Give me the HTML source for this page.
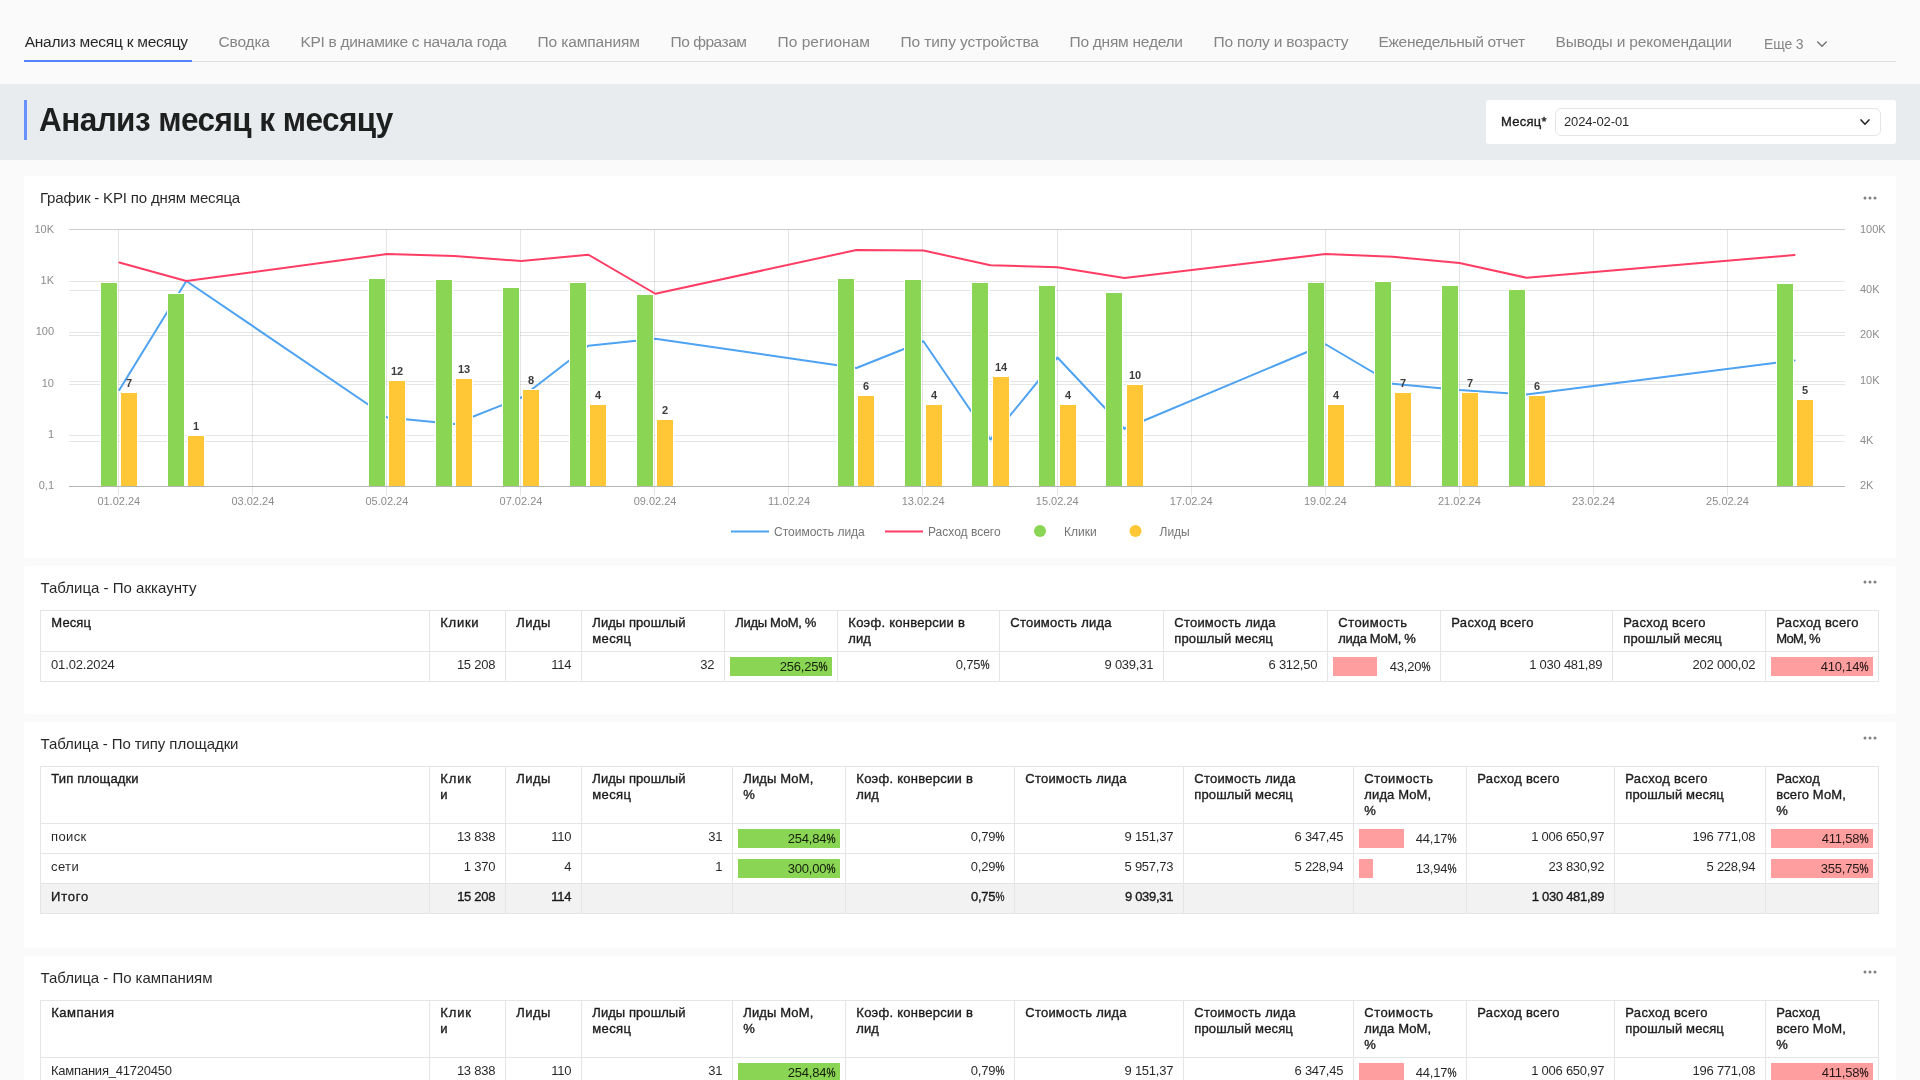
<!DOCTYPE html>
<html lang="ru"><head><meta charset="utf-8"><title>Анализ месяц к месяцу</title>
<style>html,body{margin:0;padding:0}body{width:1920px;height:1080px;overflow:hidden;position:relative;background:#fafafa;font-family:"Liberation Sans", sans-serif;}span{display:block}</style></head>
<body>
<div style="position:absolute;left:0;top:0;width:1920px;height:1080px;will-change:transform">
<div style="position:absolute;left:0px;top:84px;width:1920px;height:76px;background:#e9ecef;"></div>
<div style="position:absolute;left:24px;top:61px;width:1872px;height:1px;background:#e0e0e0;"></div>
<div style="position:absolute;left:24px;top:59.5px;width:168px;height:2px;background:#5282ff;"></div>
<span style="position:absolute;white-space:pre;font-size:15.5px;line-height:15.5px;top:34.28px;color:rgba(0,0,0,.85);letter-spacing:-0.249px;left:24.70px;">Анализ месяц к месяцу</span>
<span style="position:absolute;white-space:pre;font-size:15.5px;line-height:15.5px;top:34.28px;color:#858585;letter-spacing:-0.166px;left:218.50px;">Сводка</span>
<span style="position:absolute;white-space:pre;font-size:15.5px;line-height:15.5px;top:34.28px;color:#858585;letter-spacing:-0.305px;left:300.50px;">KPI в динамике с начала года</span>
<span style="position:absolute;white-space:pre;font-size:15.5px;line-height:15.5px;top:34.28px;color:#858585;letter-spacing:-0.114px;left:537.50px;">По кампаниям</span>
<span style="position:absolute;white-space:pre;font-size:15.5px;line-height:15.5px;top:34.28px;color:#858585;letter-spacing:-0.473px;left:670.50px;">По фразам</span>
<span style="position:absolute;white-space:pre;font-size:15.5px;line-height:15.5px;top:34.28px;color:#858585;letter-spacing:0.042px;left:777.50px;">По регионам</span>
<span style="position:absolute;white-space:pre;font-size:15.5px;line-height:15.5px;top:34.28px;color:#858585;letter-spacing:-0.097px;left:900.50px;">По типу устройства</span>
<span style="position:absolute;white-space:pre;font-size:15.5px;line-height:15.5px;top:34.28px;color:#858585;letter-spacing:-0.249px;left:1069.50px;">По дням недели</span>
<span style="position:absolute;white-space:pre;font-size:15.5px;line-height:15.5px;top:34.28px;color:#858585;letter-spacing:-0.202px;left:1213.50px;">По полу и возрасту</span>
<span style="position:absolute;white-space:pre;font-size:15.5px;line-height:15.5px;top:34.28px;color:#858585;letter-spacing:-0.310px;left:1378.50px;">Еженедельный отчет</span>
<span style="position:absolute;white-space:pre;font-size:15.5px;line-height:15.5px;top:34.28px;color:#858585;letter-spacing:-0.165px;left:1555.50px;">Выводы и рекомендации</span>
<span style="position:absolute;white-space:pre;font-size:15.5px;line-height:15.5px;top:35.88px;color:#858585;letter-spacing:-0.117px;transform:scaleX(0.9);transform-origin:0 50%;left:1764.30px;">Еще 3</span>
<svg style="position:absolute;left:1815px;top:38px" width="14" height="12" viewBox="0 0 14 12"><path d="M2.7 3.9 L7 8.3 L11.3 3.9" fill="none" stroke="#737373" stroke-width="1.4" stroke-linecap="round" stroke-linejoin="round"/></svg>
<div style="position:absolute;left:24px;top:100px;width:3px;height:40px;background:#6691ff;"></div>
<span style="position:absolute;white-space:pre;font-size:33.5px;line-height:33.5px;top:102.74px;color:rgba(0,0,0,.87);font-weight:700;letter-spacing:-0.579px;transform:scaleX(0.94);transform-origin:0 50%;left:39.30px;">Анализ месяц к месяцу</span>
<div style="position:absolute;left:1486px;top:100px;width:410px;height:44px;background:#fff;border-radius:3px;"></div>
<span style="position:absolute;white-space:pre;font-size:13px;line-height:13px;top:115.00px;color:rgba(0,0,0,.85);-webkit-text-stroke:0.37px rgba(0,0,0,.85);letter-spacing:0.270px;left:1501.00px;">Месяц*</span>
<div style="position:absolute;left:1555px;top:108px;width:326px;height:28px;box-sizing:border-box;border:1px solid #e5e5e5;border-radius:6px;background:#fff"></div>
<span style="position:absolute;white-space:pre;font-size:13px;line-height:13px;top:115.00px;color:rgba(0,0,0,.85);letter-spacing:-0.144px;left:1564.00px;">2024-02-01</span>
<svg style="position:absolute;left:1858px;top:116px" width="14" height="12" viewBox="0 0 14 12"><path d="M3.05 3.95 L7 8.25 L10.95 3.95" fill="none" stroke="#262626" stroke-width="1.6" stroke-linecap="round" stroke-linejoin="round"/></svg>
<div style="position:absolute;left:24px;top:176px;width:1872px;height:382px;background:#fff;border-radius:3px;"></div>
<div style="position:absolute;left:24px;top:566px;width:1872px;height:148px;background:#fff;border-radius:3px;"></div>
<div style="position:absolute;left:24px;top:722px;width:1872px;height:226px;background:#fff;border-radius:3px;"></div>
<div style="position:absolute;left:24px;top:956px;width:1872px;height:200px;background:#fff;border-radius:3px;"></div>
<svg style="position:absolute;left:1860px;top:194px" width="20" height="8" viewBox="0 0 20 8"><circle cx="5" cy="4" r="1.5" fill="#808080"/><circle cx="10" cy="4" r="1.5" fill="#808080"/><circle cx="15" cy="4" r="1.5" fill="#808080"/></svg>
<svg style="position:absolute;left:1860px;top:578px" width="20" height="8" viewBox="0 0 20 8"><circle cx="5" cy="4" r="1.5" fill="#808080"/><circle cx="10" cy="4" r="1.5" fill="#808080"/><circle cx="15" cy="4" r="1.5" fill="#808080"/></svg>
<svg style="position:absolute;left:1860px;top:734px" width="20" height="8" viewBox="0 0 20 8"><circle cx="5" cy="4" r="1.5" fill="#808080"/><circle cx="10" cy="4" r="1.5" fill="#808080"/><circle cx="15" cy="4" r="1.5" fill="#808080"/></svg>
<svg style="position:absolute;left:1860px;top:968px" width="20" height="8" viewBox="0 0 20 8"><circle cx="5" cy="4" r="1.5" fill="#808080"/><circle cx="10" cy="4" r="1.5" fill="#808080"/><circle cx="15" cy="4" r="1.5" fill="#808080"/></svg>
<span style="position:absolute;white-space:pre;font-size:15px;line-height:15px;top:190.40px;color:rgba(0,0,0,.85);letter-spacing:-0.162px;left:40.00px;">График - KPI по дням месяца</span>
<span style="position:absolute;white-space:pre;font-size:15px;line-height:15px;top:580.40px;color:rgba(0,0,0,.85);letter-spacing:0.013px;left:40.50px;">Таблица - По аккаунту</span>
<span style="position:absolute;white-space:pre;font-size:15px;line-height:15px;top:736.40px;color:rgba(0,0,0,.85);letter-spacing:-0.090px;left:40.50px;">Таблица - По типу площадки</span>
<span style="position:absolute;white-space:pre;font-size:15px;line-height:15px;top:970.40px;color:rgba(0,0,0,.85);letter-spacing:-0.026px;left:40.50px;">Таблица - По кампаниям</span>
<svg style="position:absolute;left:0;top:0" width="1920" height="1080" viewBox="0 0 1920 1080" font-family='"Liberation Sans", sans-serif'><path d="M69 281.5 H1845" stroke="#000" stroke-opacity=".1" stroke-width="1"/><path d="M69 290.5 H1845" stroke="#000" stroke-opacity=".1" stroke-width="1"/><path d="M69 332.5 H1845" stroke="#000" stroke-opacity=".1" stroke-width="1"/><path d="M69 335.5 H1845" stroke="#000" stroke-opacity=".1" stroke-width="1"/><path d="M69 381.5 H1845" stroke="#000" stroke-opacity=".1" stroke-width="1"/><path d="M69 384.5 H1845" stroke="#000" stroke-opacity=".1" stroke-width="1"/><path d="M69 435.5 H1845" stroke="#000" stroke-opacity=".1" stroke-width="1"/><path d="M69 441.5 H1845" stroke="#000" stroke-opacity=".1" stroke-width="1"/><path d="M69 229.5 H1845" stroke="#000" stroke-opacity=".1" stroke-width="1"/><path d="M69 229.5 H1845" stroke="#000" stroke-opacity=".1" stroke-width="1"/><path d="M118.5 230 V495.5" stroke="#000" stroke-opacity=".1" stroke-width="1"/><path d="M252.5 230 V495.5" stroke="#000" stroke-opacity=".1" stroke-width="1"/><path d="M386.5 230 V495.5" stroke="#000" stroke-opacity=".1" stroke-width="1"/><path d="M520.5 230 V495.5" stroke="#000" stroke-opacity=".1" stroke-width="1"/><path d="M654.5 230 V495.5" stroke="#000" stroke-opacity=".1" stroke-width="1"/><path d="M788.5 230 V495.5" stroke="#000" stroke-opacity=".1" stroke-width="1"/><path d="M922.5 230 V495.5" stroke="#000" stroke-opacity=".1" stroke-width="1"/><path d="M1057.5 230 V495.5" stroke="#000" stroke-opacity=".1" stroke-width="1"/><path d="M1191.5 230 V495.5" stroke="#000" stroke-opacity=".1" stroke-width="1"/><path d="M1325.5 230 V495.5" stroke="#000" stroke-opacity=".1" stroke-width="1"/><path d="M1459.5 230 V495.5" stroke="#000" stroke-opacity=".1" stroke-width="1"/><path d="M1593.5 230 V495.5" stroke="#000" stroke-opacity=".1" stroke-width="1"/><path d="M1727.5 230 V495.5" stroke="#000" stroke-opacity=".1" stroke-width="1"/><path d="M69 486.5 H1845" stroke="#b5b5b5" stroke-width="1"/><path d="M119.30 390.00 L186.31 281.00 L387.34 417.50 L454.35 424.00 L521.36 397.50 L588.37 345.75 L655.38 338.75 L856.41 368.00 L923.42 341.25 L990.43 439.50 L1057.44 357.50 L1124.45 428.75 L1325.48 344.25 L1392.49 383.75 L1459.50 390.00 L1526.51 394.50 L1794.55 360.50" fill="none" stroke="#4DA2F1" stroke-width="2" stroke-linejoin="round" stroke-linecap="round"/><rect x="100.5" y="282.5" width="17" height="204.5" fill="#8AD554" stroke="#fff" stroke-width="1"/><rect x="120.5" y="392.5" width="17" height="94.5" fill="#FFC636" stroke="#fff" stroke-width="1"/><rect x="167.5" y="293.5" width="17" height="193.5" fill="#8AD554" stroke="#fff" stroke-width="1"/><rect x="187.5" y="435.5" width="17" height="51.5" fill="#FFC636" stroke="#fff" stroke-width="1"/><rect x="368.5" y="278.5" width="17" height="208.5" fill="#8AD554" stroke="#fff" stroke-width="1"/><rect x="388.5" y="380.5" width="17" height="106.5" fill="#FFC636" stroke="#fff" stroke-width="1"/><rect x="435.5" y="279.5" width="17" height="207.5" fill="#8AD554" stroke="#fff" stroke-width="1"/><rect x="455.5" y="378.5" width="17" height="108.5" fill="#FFC636" stroke="#fff" stroke-width="1"/><rect x="502.5" y="287.5" width="17" height="199.5" fill="#8AD554" stroke="#fff" stroke-width="1"/><rect x="522.5" y="389.5" width="17" height="97.5" fill="#FFC636" stroke="#fff" stroke-width="1"/><rect x="569.5" y="282.5" width="17" height="204.5" fill="#8AD554" stroke="#fff" stroke-width="1"/><rect x="589.5" y="404.5" width="17" height="82.5" fill="#FFC636" stroke="#fff" stroke-width="1"/><rect x="636.5" y="294.5" width="17" height="192.5" fill="#8AD554" stroke="#fff" stroke-width="1"/><rect x="656.5" y="419.5" width="17" height="67.5" fill="#FFC636" stroke="#fff" stroke-width="1"/><rect x="837.5" y="278.5" width="17" height="208.5" fill="#8AD554" stroke="#fff" stroke-width="1"/><rect x="857.5" y="395.5" width="17" height="91.5" fill="#FFC636" stroke="#fff" stroke-width="1"/><rect x="904.5" y="279.5" width="17" height="207.5" fill="#8AD554" stroke="#fff" stroke-width="1"/><rect x="925.5" y="404.5" width="17" height="82.5" fill="#FFC636" stroke="#fff" stroke-width="1"/><rect x="971.5" y="282.5" width="17" height="204.5" fill="#8AD554" stroke="#fff" stroke-width="1"/><rect x="992.5" y="376.5" width="17" height="110.5" fill="#FFC636" stroke="#fff" stroke-width="1"/><rect x="1038.5" y="285.5" width="17" height="201.5" fill="#8AD554" stroke="#fff" stroke-width="1"/><rect x="1059.5" y="404.5" width="17" height="82.5" fill="#FFC636" stroke="#fff" stroke-width="1"/><rect x="1105.5" y="292.5" width="17" height="194.5" fill="#8AD554" stroke="#fff" stroke-width="1"/><rect x="1126.5" y="384.5" width="17" height="102.5" fill="#FFC636" stroke="#fff" stroke-width="1"/><rect x="1307.5" y="282.5" width="17" height="204.5" fill="#8AD554" stroke="#fff" stroke-width="1"/><rect x="1327.5" y="404.5" width="17" height="82.5" fill="#FFC636" stroke="#fff" stroke-width="1"/><rect x="1374.5" y="281.5" width="17" height="205.5" fill="#8AD554" stroke="#fff" stroke-width="1"/><rect x="1394.5" y="392.5" width="17" height="94.5" fill="#FFC636" stroke="#fff" stroke-width="1"/><rect x="1441.5" y="285.5" width="17" height="201.5" fill="#8AD554" stroke="#fff" stroke-width="1"/><rect x="1461.5" y="392.5" width="17" height="94.5" fill="#FFC636" stroke="#fff" stroke-width="1"/><rect x="1508.5" y="289.5" width="17" height="197.5" fill="#8AD554" stroke="#fff" stroke-width="1"/><rect x="1528.5" y="395.5" width="17" height="91.5" fill="#FFC636" stroke="#fff" stroke-width="1"/><rect x="1776.5" y="283.5" width="17" height="203.5" fill="#8AD554" stroke="#fff" stroke-width="1"/><rect x="1796.5" y="399.5" width="17" height="87.5" fill="#FFC636" stroke="#fff" stroke-width="1"/><path d="M119.30 262.50 L186.31 281.00 L387.34 254.00 L454.35 256.00 L521.36 261.00 L588.37 254.75 L655.38 293.75 L856.41 250.00 L923.42 250.50 L990.43 265.25 L1057.44 267.25 L1124.45 278.00 L1325.48 254.00 L1392.49 256.75 L1459.50 263.00 L1526.51 277.75 L1794.55 255.00" fill="none" stroke="#FF3D64" stroke-width="2" stroke-linejoin="round" stroke-linecap="round"/><path d="M69 486.5 H1845" stroke="#b5b5b5" stroke-width="1"/><text x="54" y="232.6" text-anchor="end" font-size="11" fill="#8c8c8c">10K</text><text x="54" y="283.9" text-anchor="end" font-size="11" fill="#8c8c8c">1K</text><text x="54" y="335.2" text-anchor="end" font-size="11" fill="#8c8c8c">100</text><text x="54" y="386.5" text-anchor="end" font-size="11" fill="#8c8c8c">10</text><text x="54" y="437.8" text-anchor="end" font-size="11" fill="#8c8c8c">1</text><text x="54" y="489.2" text-anchor="end" font-size="11" fill="#8c8c8c">0,1</text><text x="1860" y="232.6" text-anchor="start" font-size="11" fill="#8c8c8c">100K</text><text x="1860" y="292.7" text-anchor="start" font-size="11" fill="#8c8c8c">40K</text><text x="1860" y="338.1" text-anchor="start" font-size="11" fill="#8c8c8c">20K</text><text x="1860" y="383.6" text-anchor="start" font-size="11" fill="#8c8c8c">10K</text><text x="1860" y="443.6" text-anchor="start" font-size="11" fill="#8c8c8c">4K</text><text x="1860" y="489.2" text-anchor="start" font-size="11" fill="#8c8c8c">2K</text><text x="118.8" y="505" text-anchor="middle" font-size="11" fill="#8c8c8c">01.02.24</text><text x="252.86" y="505" text-anchor="middle" font-size="11" fill="#8c8c8c">03.02.24</text><text x="386.92" y="505" text-anchor="middle" font-size="11" fill="#8c8c8c">05.02.24</text><text x="520.98" y="505" text-anchor="middle" font-size="11" fill="#8c8c8c">07.02.24</text><text x="655.04" y="505" text-anchor="middle" font-size="11" fill="#8c8c8c">09.02.24</text><text x="789.1" y="505" text-anchor="middle" font-size="11" fill="#8c8c8c">11.02.24</text><text x="923.16" y="505" text-anchor="middle" font-size="11" fill="#8c8c8c">13.02.24</text><text x="1057.22" y="505" text-anchor="middle" font-size="11" fill="#8c8c8c">15.02.24</text><text x="1191.28" y="505" text-anchor="middle" font-size="11" fill="#8c8c8c">17.02.24</text><text x="1325.34" y="505" text-anchor="middle" font-size="11" fill="#8c8c8c">19.02.24</text><text x="1459.4" y="505" text-anchor="middle" font-size="11" fill="#8c8c8c">21.02.24</text><text x="1593.46" y="505" text-anchor="middle" font-size="11" fill="#8c8c8c">23.02.24</text><text x="1727.52" y="505" text-anchor="middle" font-size="11" fill="#8c8c8c">25.02.24</text><text x="129" y="387" text-anchor="middle" font-size="11" fill="#3d3d3d" font-weight="700">7</text><text x="196" y="430" text-anchor="middle" font-size="11" fill="#3d3d3d" font-weight="700">1</text><text x="397" y="375" text-anchor="middle" font-size="11" fill="#3d3d3d" font-weight="700">12</text><text x="464" y="373" text-anchor="middle" font-size="11" fill="#3d3d3d" font-weight="700">13</text><text x="531" y="384" text-anchor="middle" font-size="11" fill="#3d3d3d" font-weight="700">8</text><text x="598" y="399" text-anchor="middle" font-size="11" fill="#3d3d3d" font-weight="700">4</text><text x="665" y="414" text-anchor="middle" font-size="11" fill="#3d3d3d" font-weight="700">2</text><text x="866" y="390" text-anchor="middle" font-size="11" fill="#3d3d3d" font-weight="700">6</text><text x="934" y="399" text-anchor="middle" font-size="11" fill="#3d3d3d" font-weight="700">4</text><text x="1001" y="371" text-anchor="middle" font-size="11" fill="#3d3d3d" font-weight="700">14</text><text x="1068" y="399" text-anchor="middle" font-size="11" fill="#3d3d3d" font-weight="700">4</text><text x="1135" y="379" text-anchor="middle" font-size="11" fill="#3d3d3d" font-weight="700">10</text><text x="1336" y="399" text-anchor="middle" font-size="11" fill="#3d3d3d" font-weight="700">4</text><text x="1403" y="387" text-anchor="middle" font-size="11" fill="#3d3d3d" font-weight="700">7</text><text x="1470" y="387" text-anchor="middle" font-size="11" fill="#3d3d3d" font-weight="700">7</text><text x="1537" y="390" text-anchor="middle" font-size="11" fill="#3d3d3d" font-weight="700">6</text><text x="1805" y="394" text-anchor="middle" font-size="11" fill="#3d3d3d" font-weight="700">5</text><path d="M731 531.5 H769" stroke="#4DA2F1" stroke-width="2"/><path d="M885 531.5 H923" stroke="#FF3D64" stroke-width="2"/><circle cx="1040" cy="531" r="6" fill="#8AD554"/><circle cx="1135.5" cy="531" r="6" fill="#FFC636"/><text x="774" y="536" text-anchor="start" font-size="12" fill="#757575">Стоимость лида</text><text x="928" y="536" text-anchor="start" font-size="12" fill="#757575">Расход всего</text><text x="1064" y="536" text-anchor="start" font-size="12" fill="#757575">Клики</text><text x="1159.5" y="536" text-anchor="start" font-size="12" fill="#757575">Лиды</text></svg>
<div style="position:absolute;left:40px;top:610px;width:1839px;height:1px;background:#e5e5e5;"></div>
<div style="position:absolute;left:40px;top:651px;width:1839px;height:1px;background:#e5e5e5;"></div>
<div style="position:absolute;left:40px;top:681px;width:1839px;height:1px;background:#e5e5e5;"></div>
<div style="position:absolute;left:40px;top:610px;width:1px;height:72px;background:#e5e5e5;"></div>
<div style="position:absolute;left:429px;top:610px;width:1px;height:72px;background:#e5e5e5;"></div>
<div style="position:absolute;left:505px;top:610px;width:1px;height:72px;background:#e5e5e5;"></div>
<div style="position:absolute;left:581px;top:610px;width:1px;height:72px;background:#e5e5e5;"></div>
<div style="position:absolute;left:724px;top:610px;width:1px;height:72px;background:#e5e5e5;"></div>
<div style="position:absolute;left:837px;top:610px;width:1px;height:72px;background:#e5e5e5;"></div>
<div style="position:absolute;left:999px;top:610px;width:1px;height:72px;background:#e5e5e5;"></div>
<div style="position:absolute;left:1163px;top:610px;width:1px;height:72px;background:#e5e5e5;"></div>
<div style="position:absolute;left:1327px;top:610px;width:1px;height:72px;background:#e5e5e5;"></div>
<div style="position:absolute;left:1440px;top:610px;width:1px;height:72px;background:#e5e5e5;"></div>
<div style="position:absolute;left:1612px;top:610px;width:1px;height:72px;background:#e5e5e5;"></div>
<div style="position:absolute;left:1765px;top:610px;width:1px;height:72px;background:#e5e5e5;"></div>
<div style="position:absolute;left:1878px;top:610px;width:1px;height:72px;background:#e5e5e5;"></div>
<span style="position:absolute;white-space:pre;font-size:13px;line-height:13px;top:616.10px;color:rgba(0,0,0,.85);-webkit-text-stroke:0.37px rgba(0,0,0,.85);letter-spacing:0.124px;left:51.30px;">Месяц</span>
<span style="position:absolute;white-space:pre;font-size:13px;line-height:13px;top:616.10px;color:rgba(0,0,0,.85);-webkit-text-stroke:0.37px rgba(0,0,0,.85);letter-spacing:0.731px;left:440.30px;">Клики</span>
<span style="position:absolute;white-space:pre;font-size:13px;line-height:13px;top:616.10px;color:rgba(0,0,0,.85);-webkit-text-stroke:0.37px rgba(0,0,0,.85);letter-spacing:0.422px;left:516.30px;">Лиды</span>
<span style="position:absolute;white-space:pre;font-size:13px;line-height:13px;top:616.10px;color:rgba(0,0,0,.85);-webkit-text-stroke:0.37px rgba(0,0,0,.85);letter-spacing:0.066px;left:592.30px;">Лиды прошлый</span>
<span style="position:absolute;white-space:pre;font-size:13px;line-height:13px;top:632.10px;color:rgba(0,0,0,.85);-webkit-text-stroke:0.37px rgba(0,0,0,.85);letter-spacing:0.361px;left:592.30px;">месяц</span>
<span style="position:absolute;white-space:pre;font-size:13px;line-height:13px;top:616.10px;color:rgba(0,0,0,.85);-webkit-text-stroke:0.37px rgba(0,0,0,.85);letter-spacing:-0.306px;left:735.30px;">Лиды МоМ, %</span>
<span style="position:absolute;white-space:pre;font-size:13px;line-height:13px;top:616.10px;color:rgba(0,0,0,.85);-webkit-text-stroke:0.37px rgba(0,0,0,.85);letter-spacing:0.258px;left:848.30px;">Коэф. конверсии в</span>
<span style="position:absolute;white-space:pre;font-size:13px;line-height:13px;top:632.10px;color:rgba(0,0,0,.85);-webkit-text-stroke:0.37px rgba(0,0,0,.85);letter-spacing:0.081px;left:848.30px;">лид</span>
<span style="position:absolute;white-space:pre;font-size:13px;line-height:13px;top:616.10px;color:rgba(0,0,0,.85);-webkit-text-stroke:0.37px rgba(0,0,0,.85);letter-spacing:0.219px;left:1010.30px;">Стоимость лида</span>
<span style="position:absolute;white-space:pre;font-size:13px;line-height:13px;top:616.10px;color:rgba(0,0,0,.85);-webkit-text-stroke:0.37px rgba(0,0,0,.85);letter-spacing:0.219px;left:1174.30px;">Стоимость лида</span>
<span style="position:absolute;white-space:pre;font-size:13px;line-height:13px;top:632.10px;color:rgba(0,0,0,.85);-webkit-text-stroke:0.37px rgba(0,0,0,.85);letter-spacing:0.134px;left:1174.30px;">прошлый месяц</span>
<span style="position:absolute;white-space:pre;font-size:13px;line-height:13px;top:616.10px;color:rgba(0,0,0,.85);-webkit-text-stroke:0.37px rgba(0,0,0,.85);letter-spacing:0.451px;left:1338.30px;">Стоимость</span>
<span style="position:absolute;white-space:pre;font-size:13px;line-height:13px;top:632.10px;color:rgba(0,0,0,.85);-webkit-text-stroke:0.37px rgba(0,0,0,.85);letter-spacing:-0.359px;left:1338.30px;">лида МоМ, %</span>
<span style="position:absolute;white-space:pre;font-size:13px;line-height:13px;top:616.10px;color:rgba(0,0,0,.85);-webkit-text-stroke:0.37px rgba(0,0,0,.85);letter-spacing:0.322px;left:1451.30px;">Расход всего</span>
<span style="position:absolute;white-space:pre;font-size:13px;line-height:13px;top:616.10px;color:rgba(0,0,0,.85);-webkit-text-stroke:0.37px rgba(0,0,0,.85);letter-spacing:0.322px;left:1623.30px;">Расход всего</span>
<span style="position:absolute;white-space:pre;font-size:13px;line-height:13px;top:632.10px;color:rgba(0,0,0,.85);-webkit-text-stroke:0.37px rgba(0,0,0,.85);letter-spacing:0.134px;left:1623.30px;">прошлый месяц</span>
<span style="position:absolute;white-space:pre;font-size:13px;line-height:13px;top:616.10px;color:rgba(0,0,0,.85);-webkit-text-stroke:0.37px rgba(0,0,0,.85);letter-spacing:0.322px;left:1776.30px;">Расход всего</span>
<span style="position:absolute;white-space:pre;font-size:13px;line-height:13px;top:632.10px;color:rgba(0,0,0,.85);-webkit-text-stroke:0.37px rgba(0,0,0,.85);letter-spacing:-0.706px;left:1776.30px;">МоМ, %</span>
<span style="position:absolute;white-space:pre;font-size:13px;line-height:13px;top:657.50px;color:rgba(0,0,0,.85);letter-spacing:-0.148px;left:51.00px;">01.02.2024</span>
<span style="position:absolute;white-space:pre;font-size:13px;line-height:13px;top:657.50px;color:rgba(0,0,0,.85);letter-spacing:-0.250px;right:1424.85px;">15 208</span>
<span style="position:absolute;white-space:pre;font-size:13px;line-height:13px;top:657.50px;color:rgba(0,0,0,.85);letter-spacing:-0.250px;right:1348.85px;">114</span>
<span style="position:absolute;white-space:pre;font-size:13px;line-height:13px;top:657.50px;color:rgba(0,0,0,.85);letter-spacing:-0.250px;right:1205.85px;">32</span>
<div style="position:absolute;left:730px;top:657px;width:102px;height:19px;background:#8AD554;"></div>
<span style="position:absolute;white-space:pre;font-size:13px;line-height:13px;top:659.80px;color:rgba(0,0,0,.85);letter-spacing:-0.250px;right:1092.85px;">256,25<i style="display:inline-block;font-style:normal;transform:scaleX(.78);transform-origin:100% 50%;-webkit-text-stroke:.3px;margin-left:-2.54px;letter-spacing:0">%</i></span>
<span style="position:absolute;white-space:pre;font-size:13px;line-height:13px;top:657.50px;color:rgba(0,0,0,.85);letter-spacing:-0.250px;right:930.85px;">0,75<i style="display:inline-block;font-style:normal;transform:scaleX(.78);transform-origin:100% 50%;-webkit-text-stroke:.3px;margin-left:-2.54px;letter-spacing:0">%</i></span>
<span style="position:absolute;white-space:pre;font-size:13px;line-height:13px;top:657.50px;color:rgba(0,0,0,.85);letter-spacing:-0.250px;right:766.85px;">9 039,31</span>
<span style="position:absolute;white-space:pre;font-size:13px;line-height:13px;top:657.50px;color:rgba(0,0,0,.85);letter-spacing:-0.250px;right:602.85px;">6 312,50</span>
<div style="position:absolute;left:1333px;top:657px;width:44px;height:19px;background:#FF9E9E;"></div>
<span style="position:absolute;white-space:pre;font-size:13px;line-height:13px;top:659.80px;color:rgba(0,0,0,.85);letter-spacing:-0.250px;right:489.85px;">43,20<i style="display:inline-block;font-style:normal;transform:scaleX(.78);transform-origin:100% 50%;-webkit-text-stroke:.3px;margin-left:-2.54px;letter-spacing:0">%</i></span>
<span style="position:absolute;white-space:pre;font-size:13px;line-height:13px;top:657.50px;color:rgba(0,0,0,.85);letter-spacing:-0.250px;right:317.85px;">1 030 481,89</span>
<span style="position:absolute;white-space:pre;font-size:13px;line-height:13px;top:657.50px;color:rgba(0,0,0,.85);letter-spacing:-0.250px;right:164.85px;">202 000,02</span>
<div style="position:absolute;left:1771px;top:657px;width:102px;height:19px;background:#FF9E9E;"></div>
<span style="position:absolute;white-space:pre;font-size:13px;line-height:13px;top:659.80px;color:rgba(0,0,0,.85);letter-spacing:-0.250px;right:51.85px;">410,14<i style="display:inline-block;font-style:normal;transform:scaleX(.78);transform-origin:100% 50%;-webkit-text-stroke:.3px;margin-left:-2.54px;letter-spacing:0">%</i></span>
<div style="position:absolute;left:40px;top:883px;width:1838px;height:30px;background:#f2f2f2;"></div>
<div style="position:absolute;left:40px;top:766px;width:1839px;height:1px;background:#e5e5e5;"></div>
<div style="position:absolute;left:40px;top:823px;width:1839px;height:1px;background:#e5e5e5;"></div>
<div style="position:absolute;left:40px;top:853px;width:1839px;height:1px;background:#e5e5e5;"></div>
<div style="position:absolute;left:40px;top:883px;width:1839px;height:1px;background:#e5e5e5;"></div>
<div style="position:absolute;left:40px;top:913px;width:1839px;height:1px;background:#e5e5e5;"></div>
<div style="position:absolute;left:40px;top:766px;width:1px;height:148px;background:#e5e5e5;"></div>
<div style="position:absolute;left:429px;top:766px;width:1px;height:148px;background:#e5e5e5;"></div>
<div style="position:absolute;left:505px;top:766px;width:1px;height:148px;background:#e5e5e5;"></div>
<div style="position:absolute;left:581px;top:766px;width:1px;height:148px;background:#e5e5e5;"></div>
<div style="position:absolute;left:732px;top:766px;width:1px;height:148px;background:#e5e5e5;"></div>
<div style="position:absolute;left:845px;top:766px;width:1px;height:148px;background:#e5e5e5;"></div>
<div style="position:absolute;left:1014px;top:766px;width:1px;height:148px;background:#e5e5e5;"></div>
<div style="position:absolute;left:1183px;top:766px;width:1px;height:148px;background:#e5e5e5;"></div>
<div style="position:absolute;left:1353px;top:766px;width:1px;height:148px;background:#e5e5e5;"></div>
<div style="position:absolute;left:1466px;top:766px;width:1px;height:148px;background:#e5e5e5;"></div>
<div style="position:absolute;left:1614px;top:766px;width:1px;height:148px;background:#e5e5e5;"></div>
<div style="position:absolute;left:1765px;top:766px;width:1px;height:148px;background:#e5e5e5;"></div>
<div style="position:absolute;left:1878px;top:766px;width:1px;height:148px;background:#e5e5e5;"></div>
<span style="position:absolute;white-space:pre;font-size:13px;line-height:13px;top:772.10px;color:rgba(0,0,0,.85);-webkit-text-stroke:0.37px rgba(0,0,0,.85);letter-spacing:0.141px;left:51.30px;">Тип площадки</span>
<span style="position:absolute;white-space:pre;font-size:13px;line-height:13px;top:772.10px;color:rgba(0,0,0,.85);-webkit-text-stroke:0.37px rgba(0,0,0,.85);letter-spacing:0.864px;left:440.30px;">Клик</span>
<span style="position:absolute;white-space:pre;font-size:13px;line-height:13px;top:788.10px;color:rgba(0,0,0,.85);-webkit-text-stroke:0.37px rgba(0,0,0,.85);letter-spacing:0.120px;left:440.30px;">и</span>
<span style="position:absolute;white-space:pre;font-size:13px;line-height:13px;top:772.10px;color:rgba(0,0,0,.85);-webkit-text-stroke:0.37px rgba(0,0,0,.85);letter-spacing:0.422px;left:516.30px;">Лиды</span>
<span style="position:absolute;white-space:pre;font-size:13px;line-height:13px;top:772.10px;color:rgba(0,0,0,.85);-webkit-text-stroke:0.37px rgba(0,0,0,.85);letter-spacing:0.066px;left:592.30px;">Лиды прошлый</span>
<span style="position:absolute;white-space:pre;font-size:13px;line-height:13px;top:788.10px;color:rgba(0,0,0,.85);-webkit-text-stroke:0.37px rgba(0,0,0,.85);letter-spacing:0.361px;left:592.30px;">месяц</span>
<span style="position:absolute;white-space:pre;font-size:13px;line-height:13px;top:772.10px;color:rgba(0,0,0,.85);-webkit-text-stroke:0.37px rgba(0,0,0,.85);letter-spacing:0.120px;left:743.30px;">Лиды МоМ,</span>
<span style="position:absolute;white-space:pre;font-size:13px;line-height:13px;top:788.10px;color:rgba(0,0,0,.85);-webkit-text-stroke:0.37px rgba(0,0,0,.85);letter-spacing:0.120px;left:743.30px;">%</span>
<span style="position:absolute;white-space:pre;font-size:13px;line-height:13px;top:772.10px;color:rgba(0,0,0,.85);-webkit-text-stroke:0.37px rgba(0,0,0,.85);letter-spacing:0.258px;left:856.30px;">Коэф. конверсии в</span>
<span style="position:absolute;white-space:pre;font-size:13px;line-height:13px;top:788.10px;color:rgba(0,0,0,.85);-webkit-text-stroke:0.37px rgba(0,0,0,.85);letter-spacing:0.081px;left:856.30px;">лид</span>
<span style="position:absolute;white-space:pre;font-size:13px;line-height:13px;top:772.10px;color:rgba(0,0,0,.85);-webkit-text-stroke:0.37px rgba(0,0,0,.85);letter-spacing:0.219px;left:1025.30px;">Стоимость лида</span>
<span style="position:absolute;white-space:pre;font-size:13px;line-height:13px;top:772.10px;color:rgba(0,0,0,.85);-webkit-text-stroke:0.37px rgba(0,0,0,.85);letter-spacing:0.219px;left:1194.30px;">Стоимость лида</span>
<span style="position:absolute;white-space:pre;font-size:13px;line-height:13px;top:788.10px;color:rgba(0,0,0,.85);-webkit-text-stroke:0.37px rgba(0,0,0,.85);letter-spacing:0.134px;left:1194.30px;">прошлый месяц</span>
<span style="position:absolute;white-space:pre;font-size:13px;line-height:13px;top:772.10px;color:rgba(0,0,0,.85);-webkit-text-stroke:0.37px rgba(0,0,0,.85);letter-spacing:0.451px;left:1364.30px;">Стоимость</span>
<span style="position:absolute;white-space:pre;font-size:13px;line-height:13px;top:788.10px;color:rgba(0,0,0,.85);-webkit-text-stroke:0.37px rgba(0,0,0,.85);letter-spacing:0.120px;left:1364.30px;">лида МоМ,</span>
<span style="position:absolute;white-space:pre;font-size:13px;line-height:13px;top:804.10px;color:rgba(0,0,0,.85);-webkit-text-stroke:0.37px rgba(0,0,0,.85);letter-spacing:0.120px;left:1364.30px;">%</span>
<span style="position:absolute;white-space:pre;font-size:13px;line-height:13px;top:772.10px;color:rgba(0,0,0,.85);-webkit-text-stroke:0.37px rgba(0,0,0,.85);letter-spacing:0.322px;left:1477.30px;">Расход всего</span>
<span style="position:absolute;white-space:pre;font-size:13px;line-height:13px;top:772.10px;color:rgba(0,0,0,.85);-webkit-text-stroke:0.37px rgba(0,0,0,.85);letter-spacing:0.322px;left:1625.30px;">Расход всего</span>
<span style="position:absolute;white-space:pre;font-size:13px;line-height:13px;top:788.10px;color:rgba(0,0,0,.85);-webkit-text-stroke:0.37px rgba(0,0,0,.85);letter-spacing:0.134px;left:1625.30px;">прошлый месяц</span>
<span style="position:absolute;white-space:pre;font-size:13px;line-height:13px;top:772.10px;color:rgba(0,0,0,.85);-webkit-text-stroke:0.37px rgba(0,0,0,.85);letter-spacing:0.120px;left:1776.30px;">Расход</span>
<span style="position:absolute;white-space:pre;font-size:13px;line-height:13px;top:788.10px;color:rgba(0,0,0,.85);-webkit-text-stroke:0.37px rgba(0,0,0,.85);letter-spacing:0.120px;left:1776.30px;">всего МоМ,</span>
<span style="position:absolute;white-space:pre;font-size:13px;line-height:13px;top:804.10px;color:rgba(0,0,0,.85);-webkit-text-stroke:0.37px rgba(0,0,0,.85);letter-spacing:0.120px;left:1776.30px;">%</span>
<span style="position:absolute;white-space:pre;font-size:13px;line-height:13px;top:829.50px;color:rgba(0,0,0,.85);letter-spacing:0.395px;left:51.00px;">поиск</span>
<span style="position:absolute;white-space:pre;font-size:13px;line-height:13px;top:829.50px;color:rgba(0,0,0,.85);letter-spacing:-0.250px;right:1424.85px;">13 838</span>
<span style="position:absolute;white-space:pre;font-size:13px;line-height:13px;top:829.50px;color:rgba(0,0,0,.85);letter-spacing:-0.250px;right:1348.85px;">110</span>
<span style="position:absolute;white-space:pre;font-size:13px;line-height:13px;top:829.50px;color:rgba(0,0,0,.85);letter-spacing:-0.250px;right:1197.85px;">31</span>
<div style="position:absolute;left:738px;top:829px;width:102px;height:19px;background:#8AD554;"></div>
<span style="position:absolute;white-space:pre;font-size:13px;line-height:13px;top:831.80px;color:rgba(0,0,0,.85);letter-spacing:-0.250px;right:1084.85px;">254,84<i style="display:inline-block;font-style:normal;transform:scaleX(.78);transform-origin:100% 50%;-webkit-text-stroke:.3px;margin-left:-2.54px;letter-spacing:0">%</i></span>
<span style="position:absolute;white-space:pre;font-size:13px;line-height:13px;top:829.50px;color:rgba(0,0,0,.85);letter-spacing:-0.250px;right:915.85px;">0,79<i style="display:inline-block;font-style:normal;transform:scaleX(.78);transform-origin:100% 50%;-webkit-text-stroke:.3px;margin-left:-2.54px;letter-spacing:0">%</i></span>
<span style="position:absolute;white-space:pre;font-size:13px;line-height:13px;top:829.50px;color:rgba(0,0,0,.85);letter-spacing:-0.250px;right:746.85px;">9 151,37</span>
<span style="position:absolute;white-space:pre;font-size:13px;line-height:13px;top:829.50px;color:rgba(0,0,0,.85);letter-spacing:-0.250px;right:576.85px;">6 347,45</span>
<div style="position:absolute;left:1359px;top:829px;width:45px;height:19px;background:#FF9E9E;"></div>
<span style="position:absolute;white-space:pre;font-size:13px;line-height:13px;top:831.80px;color:rgba(0,0,0,.85);letter-spacing:-0.250px;right:463.85px;">44,17<i style="display:inline-block;font-style:normal;transform:scaleX(.78);transform-origin:100% 50%;-webkit-text-stroke:.3px;margin-left:-2.54px;letter-spacing:0">%</i></span>
<span style="position:absolute;white-space:pre;font-size:13px;line-height:13px;top:829.50px;color:rgba(0,0,0,.85);letter-spacing:-0.250px;right:315.85px;">1 006 650,97</span>
<span style="position:absolute;white-space:pre;font-size:13px;line-height:13px;top:829.50px;color:rgba(0,0,0,.85);letter-spacing:-0.250px;right:164.85px;">196 771,08</span>
<div style="position:absolute;left:1771px;top:829px;width:102px;height:19px;background:#FF9E9E;"></div>
<span style="position:absolute;white-space:pre;font-size:13px;line-height:13px;top:831.80px;color:rgba(0,0,0,.85);letter-spacing:-0.250px;right:51.85px;">411,58<i style="display:inline-block;font-style:normal;transform:scaleX(.78);transform-origin:100% 50%;-webkit-text-stroke:.3px;margin-left:-2.54px;letter-spacing:0">%</i></span>
<span style="position:absolute;white-space:pre;font-size:13px;line-height:13px;top:859.50px;color:rgba(0,0,0,.85);letter-spacing:0.395px;left:51.00px;">сети</span>
<span style="position:absolute;white-space:pre;font-size:13px;line-height:13px;top:859.50px;color:rgba(0,0,0,.85);letter-spacing:-0.250px;right:1424.85px;">1 370</span>
<span style="position:absolute;white-space:pre;font-size:13px;line-height:13px;top:859.50px;color:rgba(0,0,0,.85);letter-spacing:-0.250px;right:1348.85px;">4</span>
<span style="position:absolute;white-space:pre;font-size:13px;line-height:13px;top:859.50px;color:rgba(0,0,0,.85);letter-spacing:-0.250px;right:1197.85px;">1</span>
<div style="position:absolute;left:738px;top:859px;width:102px;height:19px;background:#8AD554;"></div>
<span style="position:absolute;white-space:pre;font-size:13px;line-height:13px;top:861.80px;color:rgba(0,0,0,.85);letter-spacing:-0.250px;right:1084.85px;">300,00<i style="display:inline-block;font-style:normal;transform:scaleX(.78);transform-origin:100% 50%;-webkit-text-stroke:.3px;margin-left:-2.54px;letter-spacing:0">%</i></span>
<span style="position:absolute;white-space:pre;font-size:13px;line-height:13px;top:859.50px;color:rgba(0,0,0,.85);letter-spacing:-0.250px;right:915.85px;">0,29<i style="display:inline-block;font-style:normal;transform:scaleX(.78);transform-origin:100% 50%;-webkit-text-stroke:.3px;margin-left:-2.54px;letter-spacing:0">%</i></span>
<span style="position:absolute;white-space:pre;font-size:13px;line-height:13px;top:859.50px;color:rgba(0,0,0,.85);letter-spacing:-0.250px;right:746.85px;">5 957,73</span>
<span style="position:absolute;white-space:pre;font-size:13px;line-height:13px;top:859.50px;color:rgba(0,0,0,.85);letter-spacing:-0.250px;right:576.85px;">5 228,94</span>
<div style="position:absolute;left:1359px;top:859px;width:14px;height:19px;background:#FF9E9E;"></div>
<span style="position:absolute;white-space:pre;font-size:13px;line-height:13px;top:861.80px;color:rgba(0,0,0,.85);letter-spacing:-0.250px;right:463.85px;">13,94<i style="display:inline-block;font-style:normal;transform:scaleX(.78);transform-origin:100% 50%;-webkit-text-stroke:.3px;margin-left:-2.54px;letter-spacing:0">%</i></span>
<span style="position:absolute;white-space:pre;font-size:13px;line-height:13px;top:859.50px;color:rgba(0,0,0,.85);letter-spacing:-0.250px;right:315.85px;">23 830,92</span>
<span style="position:absolute;white-space:pre;font-size:13px;line-height:13px;top:859.50px;color:rgba(0,0,0,.85);letter-spacing:-0.250px;right:164.85px;">5 228,94</span>
<div style="position:absolute;left:1771px;top:859px;width:102px;height:19px;background:#FF9E9E;"></div>
<span style="position:absolute;white-space:pre;font-size:13px;line-height:13px;top:861.80px;color:rgba(0,0,0,.85);letter-spacing:-0.250px;right:51.85px;">355,75<i style="display:inline-block;font-style:normal;transform:scaleX(.78);transform-origin:100% 50%;-webkit-text-stroke:.3px;margin-left:-2.54px;letter-spacing:0">%</i></span>
<span style="position:absolute;white-space:pre;font-size:13px;line-height:13px;top:889.50px;color:rgba(0,0,0,.85);-webkit-text-stroke:0.37px rgba(0,0,0,.85);letter-spacing:0.805px;left:51.00px;">Итого</span>
<span style="position:absolute;white-space:pre;font-size:13px;line-height:13px;top:889.50px;color:rgba(0,0,0,.85);-webkit-text-stroke:0.37px rgba(0,0,0,.85);letter-spacing:-0.300px;right:1424.90px;">15 208</span>
<span style="position:absolute;white-space:pre;font-size:13px;line-height:13px;top:889.50px;color:rgba(0,0,0,.85);-webkit-text-stroke:0.37px rgba(0,0,0,.85);letter-spacing:-0.300px;right:1348.90px;">114</span>
<span style="position:absolute;white-space:pre;font-size:13px;line-height:13px;top:889.50px;color:rgba(0,0,0,.85);-webkit-text-stroke:0.37px rgba(0,0,0,.85);letter-spacing:-0.300px;right:915.90px;">0,75<i style="display:inline-block;font-style:normal;transform:scaleX(.78);transform-origin:100% 50%;-webkit-text-stroke:.3px;margin-left:-2.54px;letter-spacing:0">%</i></span>
<span style="position:absolute;white-space:pre;font-size:13px;line-height:13px;top:889.50px;color:rgba(0,0,0,.85);-webkit-text-stroke:0.37px rgba(0,0,0,.85);letter-spacing:-0.300px;right:746.90px;">9 039,31</span>
<span style="position:absolute;white-space:pre;font-size:13px;line-height:13px;top:889.50px;color:rgba(0,0,0,.85);-webkit-text-stroke:0.37px rgba(0,0,0,.85);letter-spacing:-0.300px;right:315.90px;">1 030 481,89</span>
<div style="position:absolute;left:40px;top:1000px;width:1839px;height:1px;background:#e5e5e5;"></div>
<div style="position:absolute;left:40px;top:1057px;width:1839px;height:1px;background:#e5e5e5;"></div>
<div style="position:absolute;left:40px;top:1087px;width:1839px;height:1px;background:#e5e5e5;"></div>
<div style="position:absolute;left:40px;top:1000px;width:1px;height:88px;background:#e5e5e5;"></div>
<div style="position:absolute;left:429px;top:1000px;width:1px;height:88px;background:#e5e5e5;"></div>
<div style="position:absolute;left:505px;top:1000px;width:1px;height:88px;background:#e5e5e5;"></div>
<div style="position:absolute;left:581px;top:1000px;width:1px;height:88px;background:#e5e5e5;"></div>
<div style="position:absolute;left:732px;top:1000px;width:1px;height:88px;background:#e5e5e5;"></div>
<div style="position:absolute;left:845px;top:1000px;width:1px;height:88px;background:#e5e5e5;"></div>
<div style="position:absolute;left:1014px;top:1000px;width:1px;height:88px;background:#e5e5e5;"></div>
<div style="position:absolute;left:1183px;top:1000px;width:1px;height:88px;background:#e5e5e5;"></div>
<div style="position:absolute;left:1353px;top:1000px;width:1px;height:88px;background:#e5e5e5;"></div>
<div style="position:absolute;left:1466px;top:1000px;width:1px;height:88px;background:#e5e5e5;"></div>
<div style="position:absolute;left:1614px;top:1000px;width:1px;height:88px;background:#e5e5e5;"></div>
<div style="position:absolute;left:1765px;top:1000px;width:1px;height:88px;background:#e5e5e5;"></div>
<div style="position:absolute;left:1878px;top:1000px;width:1px;height:88px;background:#e5e5e5;"></div>
<span style="position:absolute;white-space:pre;font-size:13px;line-height:13px;top:1006.10px;color:rgba(0,0,0,.85);-webkit-text-stroke:0.37px rgba(0,0,0,.85);letter-spacing:0.457px;left:51.30px;">Кампания</span>
<span style="position:absolute;white-space:pre;font-size:13px;line-height:13px;top:1006.10px;color:rgba(0,0,0,.85);-webkit-text-stroke:0.37px rgba(0,0,0,.85);letter-spacing:0.864px;left:440.30px;">Клик</span>
<span style="position:absolute;white-space:pre;font-size:13px;line-height:13px;top:1022.10px;color:rgba(0,0,0,.85);-webkit-text-stroke:0.37px rgba(0,0,0,.85);letter-spacing:0.120px;left:440.30px;">и</span>
<span style="position:absolute;white-space:pre;font-size:13px;line-height:13px;top:1006.10px;color:rgba(0,0,0,.85);-webkit-text-stroke:0.37px rgba(0,0,0,.85);letter-spacing:0.422px;left:516.30px;">Лиды</span>
<span style="position:absolute;white-space:pre;font-size:13px;line-height:13px;top:1006.10px;color:rgba(0,0,0,.85);-webkit-text-stroke:0.37px rgba(0,0,0,.85);letter-spacing:0.066px;left:592.30px;">Лиды прошлый</span>
<span style="position:absolute;white-space:pre;font-size:13px;line-height:13px;top:1022.10px;color:rgba(0,0,0,.85);-webkit-text-stroke:0.37px rgba(0,0,0,.85);letter-spacing:0.361px;left:592.30px;">месяц</span>
<span style="position:absolute;white-space:pre;font-size:13px;line-height:13px;top:1006.10px;color:rgba(0,0,0,.85);-webkit-text-stroke:0.37px rgba(0,0,0,.85);letter-spacing:0.120px;left:743.30px;">Лиды МоМ,</span>
<span style="position:absolute;white-space:pre;font-size:13px;line-height:13px;top:1022.10px;color:rgba(0,0,0,.85);-webkit-text-stroke:0.37px rgba(0,0,0,.85);letter-spacing:0.120px;left:743.30px;">%</span>
<span style="position:absolute;white-space:pre;font-size:13px;line-height:13px;top:1006.10px;color:rgba(0,0,0,.85);-webkit-text-stroke:0.37px rgba(0,0,0,.85);letter-spacing:0.258px;left:856.30px;">Коэф. конверсии в</span>
<span style="position:absolute;white-space:pre;font-size:13px;line-height:13px;top:1022.10px;color:rgba(0,0,0,.85);-webkit-text-stroke:0.37px rgba(0,0,0,.85);letter-spacing:0.081px;left:856.30px;">лид</span>
<span style="position:absolute;white-space:pre;font-size:13px;line-height:13px;top:1006.10px;color:rgba(0,0,0,.85);-webkit-text-stroke:0.37px rgba(0,0,0,.85);letter-spacing:0.219px;left:1025.30px;">Стоимость лида</span>
<span style="position:absolute;white-space:pre;font-size:13px;line-height:13px;top:1006.10px;color:rgba(0,0,0,.85);-webkit-text-stroke:0.37px rgba(0,0,0,.85);letter-spacing:0.219px;left:1194.30px;">Стоимость лида</span>
<span style="position:absolute;white-space:pre;font-size:13px;line-height:13px;top:1022.10px;color:rgba(0,0,0,.85);-webkit-text-stroke:0.37px rgba(0,0,0,.85);letter-spacing:0.134px;left:1194.30px;">прошлый месяц</span>
<span style="position:absolute;white-space:pre;font-size:13px;line-height:13px;top:1006.10px;color:rgba(0,0,0,.85);-webkit-text-stroke:0.37px rgba(0,0,0,.85);letter-spacing:0.451px;left:1364.30px;">Стоимость</span>
<span style="position:absolute;white-space:pre;font-size:13px;line-height:13px;top:1022.10px;color:rgba(0,0,0,.85);-webkit-text-stroke:0.37px rgba(0,0,0,.85);letter-spacing:0.120px;left:1364.30px;">лида МоМ,</span>
<span style="position:absolute;white-space:pre;font-size:13px;line-height:13px;top:1038.10px;color:rgba(0,0,0,.85);-webkit-text-stroke:0.37px rgba(0,0,0,.85);letter-spacing:0.120px;left:1364.30px;">%</span>
<span style="position:absolute;white-space:pre;font-size:13px;line-height:13px;top:1006.10px;color:rgba(0,0,0,.85);-webkit-text-stroke:0.37px rgba(0,0,0,.85);letter-spacing:0.322px;left:1477.30px;">Расход всего</span>
<span style="position:absolute;white-space:pre;font-size:13px;line-height:13px;top:1006.10px;color:rgba(0,0,0,.85);-webkit-text-stroke:0.37px rgba(0,0,0,.85);letter-spacing:0.322px;left:1625.30px;">Расход всего</span>
<span style="position:absolute;white-space:pre;font-size:13px;line-height:13px;top:1022.10px;color:rgba(0,0,0,.85);-webkit-text-stroke:0.37px rgba(0,0,0,.85);letter-spacing:0.134px;left:1625.30px;">прошлый месяц</span>
<span style="position:absolute;white-space:pre;font-size:13px;line-height:13px;top:1006.10px;color:rgba(0,0,0,.85);-webkit-text-stroke:0.37px rgba(0,0,0,.85);letter-spacing:0.120px;left:1776.30px;">Расход</span>
<span style="position:absolute;white-space:pre;font-size:13px;line-height:13px;top:1022.10px;color:rgba(0,0,0,.85);-webkit-text-stroke:0.37px rgba(0,0,0,.85);letter-spacing:0.120px;left:1776.30px;">всего МоМ,</span>
<span style="position:absolute;white-space:pre;font-size:13px;line-height:13px;top:1038.10px;color:rgba(0,0,0,.85);-webkit-text-stroke:0.37px rgba(0,0,0,.85);letter-spacing:0.120px;left:1776.30px;">%</span>
<span style="position:absolute;white-space:pre;font-size:13px;line-height:13px;top:1063.50px;color:rgba(0,0,0,.85);letter-spacing:-0.223px;left:51.00px;">Кампания_41720450</span>
<span style="position:absolute;white-space:pre;font-size:13px;line-height:13px;top:1063.50px;color:rgba(0,0,0,.85);letter-spacing:-0.250px;right:1424.85px;">13 838</span>
<span style="position:absolute;white-space:pre;font-size:13px;line-height:13px;top:1063.50px;color:rgba(0,0,0,.85);letter-spacing:-0.250px;right:1348.85px;">110</span>
<span style="position:absolute;white-space:pre;font-size:13px;line-height:13px;top:1063.50px;color:rgba(0,0,0,.85);letter-spacing:-0.250px;right:1197.85px;">31</span>
<div style="position:absolute;left:738px;top:1063px;width:102px;height:19px;background:#8AD554;"></div>
<span style="position:absolute;white-space:pre;font-size:13px;line-height:13px;top:1065.80px;color:rgba(0,0,0,.85);letter-spacing:-0.250px;right:1084.85px;">254,84<i style="display:inline-block;font-style:normal;transform:scaleX(.78);transform-origin:100% 50%;-webkit-text-stroke:.3px;margin-left:-2.54px;letter-spacing:0">%</i></span>
<span style="position:absolute;white-space:pre;font-size:13px;line-height:13px;top:1063.50px;color:rgba(0,0,0,.85);letter-spacing:-0.250px;right:915.85px;">0,79<i style="display:inline-block;font-style:normal;transform:scaleX(.78);transform-origin:100% 50%;-webkit-text-stroke:.3px;margin-left:-2.54px;letter-spacing:0">%</i></span>
<span style="position:absolute;white-space:pre;font-size:13px;line-height:13px;top:1063.50px;color:rgba(0,0,0,.85);letter-spacing:-0.250px;right:746.85px;">9 151,37</span>
<span style="position:absolute;white-space:pre;font-size:13px;line-height:13px;top:1063.50px;color:rgba(0,0,0,.85);letter-spacing:-0.250px;right:576.85px;">6 347,45</span>
<div style="position:absolute;left:1359px;top:1063px;width:45px;height:19px;background:#FF9E9E;"></div>
<span style="position:absolute;white-space:pre;font-size:13px;line-height:13px;top:1065.80px;color:rgba(0,0,0,.85);letter-spacing:-0.250px;right:463.85px;">44,17<i style="display:inline-block;font-style:normal;transform:scaleX(.78);transform-origin:100% 50%;-webkit-text-stroke:.3px;margin-left:-2.54px;letter-spacing:0">%</i></span>
<span style="position:absolute;white-space:pre;font-size:13px;line-height:13px;top:1063.50px;color:rgba(0,0,0,.85);letter-spacing:-0.250px;right:315.85px;">1 006 650,97</span>
<span style="position:absolute;white-space:pre;font-size:13px;line-height:13px;top:1063.50px;color:rgba(0,0,0,.85);letter-spacing:-0.250px;right:164.85px;">196 771,08</span>
<div style="position:absolute;left:1771px;top:1063px;width:102px;height:19px;background:#FF9E9E;"></div>
<span style="position:absolute;white-space:pre;font-size:13px;line-height:13px;top:1065.80px;color:rgba(0,0,0,.85);letter-spacing:-0.250px;right:51.85px;">411,58<i style="display:inline-block;font-style:normal;transform:scaleX(.78);transform-origin:100% 50%;-webkit-text-stroke:.3px;margin-left:-2.54px;letter-spacing:0">%</i></span>
</div>
</body></html>
